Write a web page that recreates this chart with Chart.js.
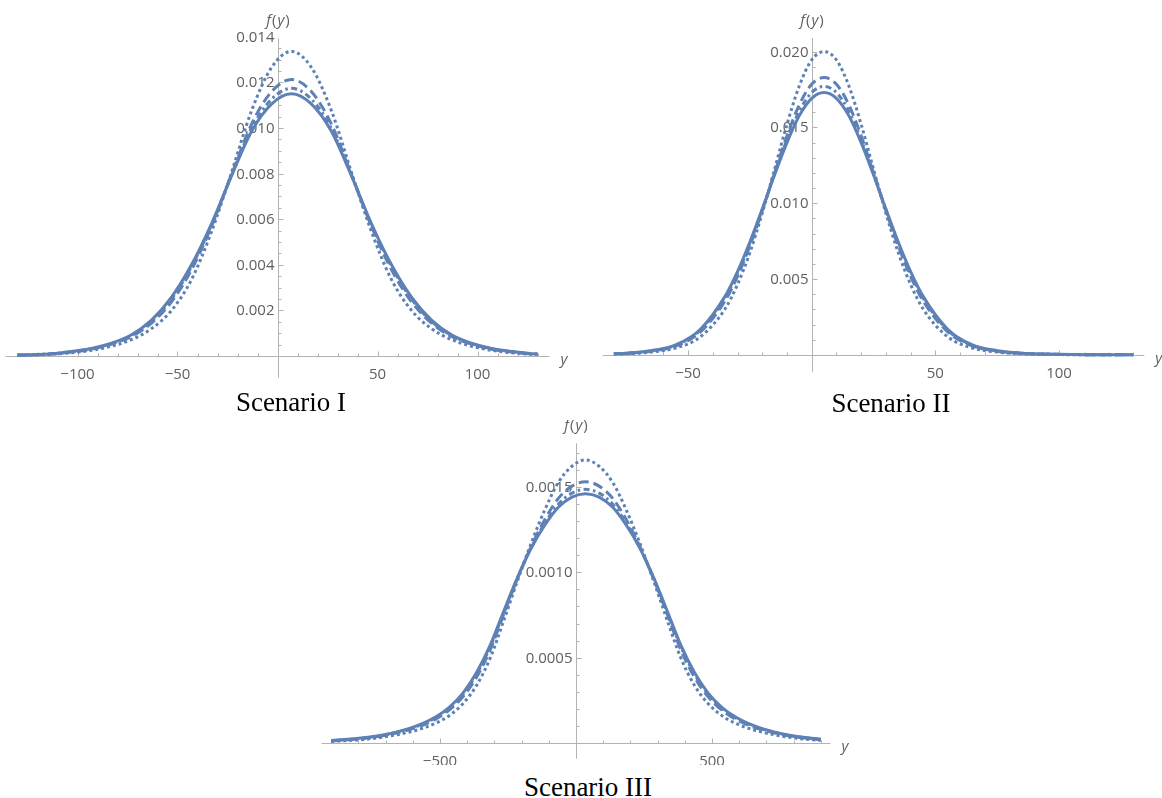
<!DOCTYPE html>
<html>
<head>
<meta charset="utf-8">
<script src="https://cdn.jsdelivr.net/npm/chart.js@4.4.1/dist/chart.umd.min.js"></script>
<style>
  body { margin: 0; background: #fff; width: 1162px; height: 798px; overflow: hidden; position: relative; }
  canvas { position: absolute; }
  .title {
    position: absolute; width: 300px; text-align: center; white-space: nowrap;
    font-family: "Liberation Serif", "Times New Roman", serif; font-size: 27px; line-height: 30px; color: #000;
  }
</style>
</head>
<body>
<canvas id="c1" width="580" height="390" style="left:0;top:0"></canvas>
<canvas id="c2" width="582" height="390" style="left:580px;top:0"></canvas>
<canvas id="c3" width="580" height="345" style="left:300px;top:420px"></canvas>
<div class="title" style="left:141px;top:387px">Scenario I</div>
<div class="title" style="left:741px;top:388px">Scenario II</div>
<div class="title" style="left:438px;top:772px">Scenario III</div>
<script>
// ---- Scenario I ----
const xs1 = [-130, -123, -113, -103, -93, -83, -73, -63, -53, -43, -33, -23, -13, -3, 7,
  17, 27, 37, 47, 57, 67, 77, 87, 97, 107, 117, 127, 130];
const solid1 = [0.00004, 0.00006, 0.00010, 0.00020, 0.00033, 0.00056, 0.00093, 0.00157, 0.00258, 0.00400, 0.00580, 0.00790, 0.00985, 0.01105, 0.01150,
  0.01105, 0.00985, 0.00790, 0.00580, 0.00400, 0.00258, 0.00157, 0.00093, 0.00056, 0.00033, 0.00020, 0.00010, 0.00009];
const dashed1 = [0.00004, 0.00005, 0.00009, 0.00018, 0.00030, 0.00052, 0.00086, 0.00144, 0.00238, 0.00378, 0.00568, 0.00795, 0.01016, 0.01159, 0.01213,
  0.01159, 0.01016, 0.00795, 0.00568, 0.00378, 0.00238, 0.00144, 0.00086, 0.00052, 0.00030, 0.00018, 0.00009, 0.00008];
const dashDot1 = [0.00004, 0.00006, 0.00010, 0.00019, 0.00032, 0.00054, 0.00090, 0.00152, 0.00250, 0.00392, 0.00575, 0.00792, 0.00997, 0.01126, 0.01174,
  0.01126, 0.00997, 0.00792, 0.00575, 0.00392, 0.00250, 0.00152, 0.00090, 0.00054, 0.00032, 0.00019, 0.00010, 0.00009];
const dotted1 = [0.00003, 0.00004, 0.00008, 0.00014, 0.00025, 0.00043, 0.00072, 0.00120, 0.00200, 0.00335, 0.00545, 0.00805, 0.01075, 0.01265, 0.01336,
  0.01265, 0.01075, 0.00805, 0.00545, 0.00335, 0.00200, 0.00120, 0.00072, 0.00043, 0.00025, 0.00014, 0.00008, 0.00007];
const xTicks1 = [-100, -50, 50, 100];
const xTickLabels1 = ["\u2212100", "\u221250", "50", "100"];
const yTicks1 = [0.002, 0.004, 0.006, 0.008, 0.010, 0.012, 0.014];
const yTickLabels1 = ["0.002", "0.004", "0.006", "0.008", "0.010", "0.012", "0.014"];

// ---- Scenario II ----
const xs2 = [-80, -75, -65, -55, -45, -35, -30, -25, -20, -15, -10, -5, 0, 5,
  10, 15, 20, 25, 30, 35, 40, 45, 55, 65, 75, 85, 95, 105, 115, 130];
const solid2 = [0.00009, 0.00012, 0.00028, 0.00066, 0.00170, 0.00388, 0.00550, 0.00745, 0.00962, 0.01188, 0.01400, 0.01578, 0.01692, 0.01730,
  0.01692, 0.01578, 0.01400, 0.01188, 0.00962, 0.00745, 0.00550, 0.00388, 0.00170, 0.00066, 0.00028, 0.00012, 0.00006, 0.00003, 0.00002, 0.00001];
const dashed2 = [0.00008, 0.00011, 0.00025, 0.00059, 0.00152, 0.00358, 0.00519, 0.00719, 0.00952, 0.01202, 0.01444, 0.01650, 0.01785, 0.01829,
  0.01785, 0.01650, 0.01444, 0.01202, 0.00952, 0.00719, 0.00519, 0.00358, 0.00152, 0.00059, 0.00025, 0.00011, 0.00005, 0.00003, 0.00002, 0.00001];
const dashDot2 = [0.00009, 0.00011, 0.00027, 0.00063, 0.00163, 0.00376, 0.00537, 0.00735, 0.00958, 0.01194, 0.01418, 0.01608, 0.01730, 0.01771,
  0.01730, 0.01608, 0.01418, 0.01194, 0.00958, 0.00735, 0.00537, 0.00376, 0.00163, 0.00063, 0.00027, 0.00011, 0.00006, 0.00003, 0.00002, 0.00001];
const dotted2 = [0.00006, 0.00008, 0.00019, 0.00046, 0.00120, 0.00305, 0.00465, 0.00675, 0.00935, 0.01225, 0.01520, 0.01775, 0.01945, 0.02000,
  0.01945, 0.01775, 0.01520, 0.01225, 0.00935, 0.00675, 0.00465, 0.00305, 0.00120, 0.00046, 0.00019, 0.00008, 0.00004, 0.00002, 0.00001, 0.00001];
const xTicks2 = [-50, 50, 100];
const xTickLabels2 = ["\u221250", "50", "100"];
const yTicks2 = [0.005, 0.010, 0.015, 0.020];
const yTickLabels2 = ["0.005", "0.010", "0.015", "0.020"];

// ---- Scenario III ----
const xs3 = [-900, -865, -815, -765, -715, -665, -615, -565, -515, -465, -415, -365, -315, -265, -215, -165, -115, -65, -15, 35,
  85, 135, 185, 235, 285, 335, 385, 435, 485, 535, 585, 635, 685, 735, 785, 835, 885, 900];
const solid3 = [0.000016, 0.000020, 0.000026, 0.000035, 0.000047, 0.000064, 0.000086, 0.000115, 0.000155, 0.000212, 0.000295, 0.000415, 0.000575, 0.000775, 0.000970, 0.001140, 0.001275, 0.001380, 0.001440, 0.001460,
  0.001440, 0.001380, 0.001275, 0.001140, 0.000970, 0.000775, 0.000575, 0.000415, 0.000295, 0.000212, 0.000155, 0.000115, 0.000086, 0.000064, 0.000047, 0.000035, 0.000026, 0.000024];
const dashed3 = [0.000014, 0.000018, 0.000023, 0.000032, 0.000043, 0.000058, 0.000079, 0.000105, 0.000142, 0.000195, 0.000273, 0.000388, 0.000548, 0.000756, 0.000963, 0.001150, 0.001307, 0.001432, 0.001504, 0.001530,
  0.001504, 0.001432, 0.001307, 0.001150, 0.000963, 0.000756, 0.000548, 0.000388, 0.000273, 0.000195, 0.000142, 0.000105, 0.000079, 0.000058, 0.000043, 0.000032, 0.000023, 0.000021];
const dashDot3 = [0.000015, 0.000019, 0.000025, 0.000034, 0.000045, 0.000062, 0.000083, 0.000112, 0.000150, 0.000206, 0.000287, 0.000406, 0.000566, 0.000768, 0.000968, 0.001144, 0.001286, 0.001398, 0.001463, 0.001485,
  0.001463, 0.001398, 0.001286, 0.001144, 0.000968, 0.000768, 0.000566, 0.000406, 0.000287, 0.000206, 0.000150, 0.000112, 0.000083, 0.000062, 0.000045, 0.000034, 0.000025, 0.000023];
const dotted3 = [0.000011, 0.000014, 0.000018, 0.000025, 0.000035, 0.000048, 0.000065, 0.000087, 0.000118, 0.000163, 0.000233, 0.000340, 0.000500, 0.000721, 0.000951, 0.001169, 0.001364, 0.001525, 0.001620, 0.001657,
  0.001620, 0.001525, 0.001364, 0.001169, 0.000951, 0.000721, 0.000500, 0.000340, 0.000233, 0.000163, 0.000118, 0.000087, 0.000065, 0.000048, 0.000035, 0.000025, 0.000018, 0.000017];
const xTicks3 = [-500, 500];
const xTickLabels3 = ["\u2212500", "500"];
const yTicks3 = [0.0005, 0.0010, 0.0015];
const yTickLabels3 = ["0.0005", "0.0010", "0.0015"];

const BLUE = "#5e81b5";
const AXIS_COLOR = "#b3b3b3";
const LABEL_COLOR = "#606060";
const TICK_FONT = '15px "Open Sans", "Liberation Sans", sans-serif';
const ITALIC_FONT = 'italic 15px "Open Sans", "Liberation Sans", sans-serif';

// solid, dashed, dot-dashed, dotted
const lineStyles = [
  { width: 3, dash: [] },
  { width: 3, dash: [10, 5] },
  { width: 3, dash: [6, 3.5, 2.5, 3.5] },
  { width: 3, dash: [3, 3] },
];

// Mathematica-like axes through the origin, drawn from the chart's own scales
function mmaAxes(p) {
  return {
    id: "mmaAxes",
    beforeDatasetsDraw(chart) {
      const { ctx, scales: { x, y } } = chart;
      const ox = Math.round(x.getPixelForValue(0)) + 0.5;
      const oy = Math.round(y.getPixelForValue(0)) + 0.5;
      const near = (v, list, step) => list.some((m) => Math.abs(m - v) < step / 100);

      ctx.save();
      ctx.strokeStyle = AXIS_COLOR;
      ctx.lineWidth = 1;
      ctx.beginPath();
      ctx.moveTo(x.getPixelForValue(p.xAxis[0]), oy);
      ctx.lineTo(x.getPixelForValue(p.xAxis[1]), oy);
      ctx.moveTo(ox, y.getPixelForValue(p.yAxis[0]));
      ctx.lineTo(ox, y.getPixelForValue(p.yAxis[1]));

      for (let k = Math.ceil(p.xAxis[0] / p.xStep); k * p.xStep <= p.xAxis[1]; k++) {
        if (k === 0) continue;
        const v = k * p.xStep;
        const len = near(v, p.xTicks, p.xStep) ? 5 : 3;
        const px = Math.round(x.getPixelForValue(v)) + 0.5;
        ctx.moveTo(px, oy);
        ctx.lineTo(px, oy - len);
      }
      for (let k = 1; k * p.yStep <= p.yAxis[1] + p.yStep / 100; k++) {
        const v = k * p.yStep;
        const len = near(v, p.yTicks, p.yStep) ? 5 : 3;
        const py = Math.round(y.getPixelForValue(v)) + 0.5;
        ctx.moveTo(ox, py);
        ctx.lineTo(ox + len, py);
      }
      ctx.stroke();

      ctx.fillStyle = LABEL_COLOR;
      ctx.font = TICK_FONT;
      ctx.textBaseline = "alphabetic";
      ctx.textAlign = "center";
      p.xTicks.forEach((v, i) => {
        ctx.fillText(p.xLabels[i], x.getPixelForValue(v), oy + 22);
      });
      ctx.textAlign = "right";
      p.yTicks.forEach((v, i) => {
        ctx.fillText(p.yLabels[i], ox - 4, y.getPixelForValue(v) + 5);
      });

      // axis labels f(y) and y
      const top = y.getPixelForValue(p.yAxis[1]);
      const parts = [["f", true], ["(", false], ["y", true], [")", false]];
      let w = 0;
      parts.forEach(([t, it]) => { ctx.font = it ? ITALIC_FONT : TICK_FONT; w += ctx.measureText(t).width + 1; });
      let cx = ox - w / 2;
      ctx.textAlign = "left";
      parts.forEach(([t, it]) => {
        ctx.font = it ? ITALIC_FONT : TICK_FONT;
        ctx.fillText(t, cx, top - 13);
        cx += ctx.measureText(t).width + 1;
      });
      ctx.font = ITALIC_FONT;
      ctx.fillText("y", x.getPixelForValue(p.xAxis[1]) + 11, oy + 7);
      ctx.restore();
    },
  };
}

function makeChart(id, p) {
  return new Chart(document.getElementById(id), {
    type: "line",
    data: {
      datasets: p.series.map((s, i) => ({
        data: p.xs.map((x, j) => ({ x: x, y: s[j] })),
        borderColor: BLUE,
        borderWidth: lineStyles[i].width,
        borderDash: lineStyles[i].dash,
        pointRadius: 0,
        fill: false,
        cubicInterpolationMode: "monotone",
      })),
    },
    options: {
      responsive: false,
      animation: false,
      events: [],
      layout: { padding: 0 },
      scales: {
        x: { type: "linear", min: p.xRange[0], max: p.xRange[1], display: false },
        y: { type: "linear", min: p.yRange[0], max: p.yRange[1], display: false },
      },
      plugins: { legend: { display: false }, tooltip: { enabled: false } },
    },
    plugins: [mmaAxes(p)],
  });
}

makeChart("c1", {
  xs: xs1, series: [solid1, dashed1, dashDot1, dotted1],
  xRange: [-138.75, 151.25], yRange: [-0.001491, 0.015614],
  xAxis: [-136, 136], yAxis: [-0.00096, 0.01393],
  xTicks: xTicks1, xLabels: xTickLabels1, xStep: 10,
  yTicks: yTicks1, yLabels: yTickLabels1, yStep: 0.0005,
});

makeChart("c2", {
  xs: xs2, series: [solid2, dashed2, dashDot2, dotted2],
  xRange: [-93.69, 141.65], yRange: [-0.002307, 0.023402],
  xAxis: [-84.5, 134.5], yAxis: [-0.0011, 0.0209],
  xTicks: xTicks2, xLabels: xTickLabels2, xStep: 10,
  yTicks: yTicks2, yLabels: yTickLabels2, yStep: 0.001,
});

makeChart("c3", {
  xs: xs3, series: [solid3, dashed3, dashDot3, dotted3],
  xRange: [-1014.7, 1117.6], yRange: [-0.000127, 0.0018906],
  xAxis: [-936, 936], yAxis: [-0.00009, 0.001754],
  xTicks: xTicks3, xLabels: xTickLabels3, xStep: 100,
  yTicks: yTicks3, yLabels: yTickLabels3, yStep: 0.0001,
});
</script>
</body>
</html>
